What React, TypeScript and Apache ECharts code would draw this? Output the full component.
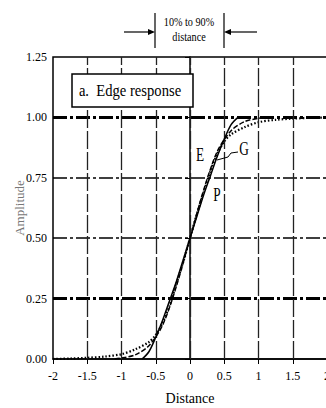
import React, { useEffect, useRef } from "react";
import * as echarts from "echarts";

const X_TICKS = [-2, -1.5, -1, -0.5, 0, 0.5, 1, 1.5, 2];
const Y_TICKS = [0, 0.25, 0.5, 0.75, 1.0, 1.25];

// P: solid curve (pillbox)
const P_X = [-0.7, -0.6, -0.5, -0.4, -0.3, -0.2, -0.1, 0, 0.1, 0.2, 0.3, 0.4, 0.5, 0.6, 0.7];
const P_Y = [0, 0.03, 0.09, 0.16, 0.24, 0.32, 0.41, 0.5, 0.59, 0.68, 0.76, 0.84, 0.91, 0.97, 1.0];

// G: dashed curve (Gaussian)
const G_X = [-1.1, -1, -0.8, -0.6, -0.4, -0.2, 0, 0.2, 0.4, 0.6, 0.8, 1, 1.1];
const G_Y = [0, 0.004, 0.017, 0.055, 0.14, 0.3, 0.5, 0.7, 0.86, 0.945, 0.983, 0.996, 1];

// E: dotted curve (exponential)
const E_X = [-2, -1.75, -1.5, -1.25, -1, -0.8, -0.6, -0.5, -0.4, -0.3, -0.2, -0.1, 0, 0.1, 0.2, 0.3, 0.4, 0.5, 0.6, 0.8, 1, 1.25, 1.5, 1.75, 2];
const E_Y = [0, 0.002, 0.005, 0.01, 0.02, 0.04, 0.07, 0.1, 0.15, 0.22, 0.31, 0.4, 0.5, 0.6, 0.69, 0.78, 0.85, 0.9, 0.93, 0.96, 0.98, 0.99, 0.995, 0.998, 1];

const THICK_H = [1.0, 0.25];
const THIN_H = [0.75, 0.5];
const V_LINES = [-1.5, -1, -0.5, 0, 0.5, 1, 1.5];

const FONT = "Liberation Serif";

const pairs = (xs: number[], ys: number[]) => xs.map((x, i) => [x, ys[i]]);

const label = (text: string, x: number, y: number, size: number, sx: number) => ({
  type: "text",
  x,
  y,
  scaleX: sx,
  z: 12,
  style: {
    text,
    fontFamily: FONT,
    fontSize: size,
    fill: "#000",
    align: "center",
    verticalAlign: "middle",
  },
});

export default function App() {
  const ref = useRef<HTMLDivElement>(null);
  useEffect(() => {
    document.body.style.overflow = "hidden";
    const chart = echarts.init(ref.current!, null, { renderer: "svg" });
    const markData: any[] = [];
    THICK_H.forEach((v) =>
      markData.push({ yAxis: v, lineStyle: { color: "#000", width: 3, type: [14, 3, 3, 3] } })
    );
    THIN_H.forEach((v) =>
      markData.push({ yAxis: v, lineStyle: { color: "#000", width: 1.5, type: [14, 3, 3, 3] } })
    );
    V_LINES.forEach((v) =>
      markData.push({ xAxis: v, lineStyle: { color: "#222", width: 1.3, type: [18, 3] } })
    );
    chart.setOption({
      animation: false,
      backgroundColor: "#fff",
      textStyle: { fontFamily: FONT },
      grid: {
        left: 53,
        top: 57,
        right: 13,
        bottom: 49,
        containLabel: false,
        outerBoundsMode: "none",
        show: true,
        borderColor: "#000",
        borderWidth: 1.5,
      },
      xAxis: {
        type: "value",
        min: X_TICKS[0],
        max: X_TICKS[X_TICKS.length - 1],
        interval: 0.5,
        name: "Distance",
        nameLocation: "middle",
        nameGap: 32,
        nameMoveOverlap: false,
        nameTextStyle: { fontFamily: FONT, fontSize: 14, color: "#000" },
        axisLine: { lineStyle: { color: "#000", width: 1.5 } },
        axisTick: { show: true, length: 5, lineStyle: { color: "#000" } },
        axisLabel: {
          fontFamily: FONT,
          fontSize: 12,
          color: "#000",
          margin: 11,
          formatter: (v: number) => String(v),
        },
        splitLine: { show: false },
      },
      yAxis: {
        type: "value",
        min: Y_TICKS[0],
        max: Y_TICKS[Y_TICKS.length - 1],
        interval: 0.25,
        name: "Amplitude",
        nameLocation: "middle",
        nameGap: 27,
        nameMoveOverlap: false,
        nameTextStyle: { fontFamily: FONT, fontSize: 13, color: "#777" },
        axisLine: { show: true, lineStyle: { color: "#000", width: 1.5 } },
        axisTick: { show: true, length: 5, lineStyle: { color: "#000" } },
        axisLabel: {
          fontFamily: FONT,
          fontSize: 12,
          color: "#000",
          margin: 6,
          formatter: (v: number) => v.toFixed(2),
        },
        splitLine: { show: false },
      },
      series: [
        {
          type: "line",
          data: [],
          silent: true,
          z: 1,
          markLine: {
            silent: true,
            symbol: ["none", "none"],
            label: { show: false },
            data: markData,
          },
        },
        {
          name: "E",
          type: "line",
          data: pairs(E_X, E_Y),
          smooth: 0.3,
          showSymbol: false,
          z: 3,
          lineStyle: { color: "#000", width: 2.2, type: [1.5, 2] },
        },
        {
          name: "G",
          type: "line",
          data: pairs(G_X, G_Y),
          smooth: 0.3,
          showSymbol: false,
          z: 4,
          lineStyle: { color: "#000", width: 1.5, type: [5, 2] },
        },
        {
          name: "P",
          type: "line",
          data: pairs(P_X, P_Y),
          smooth: 0.3,
          showSymbol: false,
          z: 5,
          lineStyle: { color: "#000", width: 1.5 },
        },
      ],
      graphic: [
        {
          type: "rect",
          shape: { x: 72, y: 74, width: 121, height: 33 },
          style: { fill: "#fff", stroke: "#000", lineWidth: 1.5 },
          z: 10,
        },
        label("a.  Edge response", 130, 90, 17, 0.86),
        label("10% to 90%", 189, 22, 12, 0.85),
        label("distance", 189, 37, 12, 0.85),
        { type: "line", shape: { x1: 155, y1: 13, x2: 155, y2: 48 }, style: { stroke: "#000", lineWidth: 1.2 } },
        { type: "line", shape: { x1: 224, y1: 13, x2: 224, y2: 48 }, style: { stroke: "#000", lineWidth: 1.2 } },
        { type: "line", shape: { x1: 124, y1: 32, x2: 150, y2: 32 }, style: { stroke: "#000", lineWidth: 1.2 } },
        { type: "line", shape: { x1: 229, y1: 32, x2: 257, y2: 32 }, style: { stroke: "#000", lineWidth: 1.2 } },
        { type: "polygon", shape: { points: [[148, 29], [155, 32], [148, 35]] }, style: { fill: "#000" } },
        { type: "polygon", shape: { points: [[231, 29], [224, 32], [231, 35]] }, style: { fill: "#000" } },
        label("E", 200, 155, 19, 0.7),
        label("G", 244, 149, 19, 0.7),
        label("P", 217, 195, 19, 0.7),
        {
          type: "polyline",
          shape: { points: [[238, 152], [231, 153], [228, 157], [217, 160]] },
          style: { stroke: "#000", lineWidth: 1, fill: "none" },
          z: 12,
        },
      ],
    });
    return () => chart.dispose();
  }, []);
  return (
    <div
      ref={ref}
      style={{ position: "fixed", left: 0, top: 0, width: 340, height: 408 }}
    />
  );
}
